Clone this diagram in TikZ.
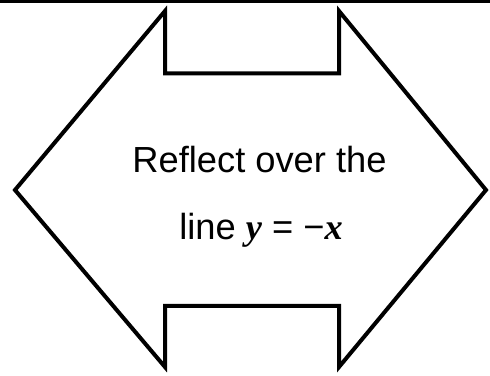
\documentclass[tikz,border=0pt]{standalone}
\usepackage{fontspec}
\setmainfont{Liberation Sans}
\newfontfamily\varfont{Liberation Serif}
\usetikzlibrary{positioning}

\newcommand{\var}[1]{{\varfont\bfseries\itshape #1}}

\begin{document}
\begin{tikzpicture}[
    x=1pt, y=1pt,
    outline/.style={draw=black, line width=4pt, miter limit=10},
    rule/.style={draw=black, line width=3pt},
    caption/.style={font=\fontsize{36.3}{40}\selectfont, inner sep=0pt, anchor=base}
]
\useasboundingbox (0,0) rectangle (490,375);

% Corners of the double arrow
\coordinate (left) at (15,185);
\coordinate (topl) at (165,364);
\coordinate (notchtl) at (165,301.5);
\coordinate (notchtr) at (339,301.5);
\coordinate (topr) at (339,364);
\coordinate (right) at (486,185);
\coordinate (botr) at (339,8);
\coordinate (notchbr) at (339,69);
\coordinate (notchbl) at (165,69);
\coordinate (botl) at (165,8);

% Rule along the top
\coordinate (rulel) at (0,373.5);
\coordinate (ruler) at (490,373.5);
\draw[rule] (rulel) -- (ruler);

% Outline
\draw[outline] (left) -- (topl) -- (notchtl) -- (notchtr) -- (topr) -- (right)
  -- (botr) -- (notchbr) -- (notchbl) -- (botl) -- cycle;

% Text
\node[caption] (line1) at (259.5,202) {Reflect over the};
\node[caption] (line2) at (261,135) {line \var{y} = −\var{x}};

\end{tikzpicture}
\end{document}
